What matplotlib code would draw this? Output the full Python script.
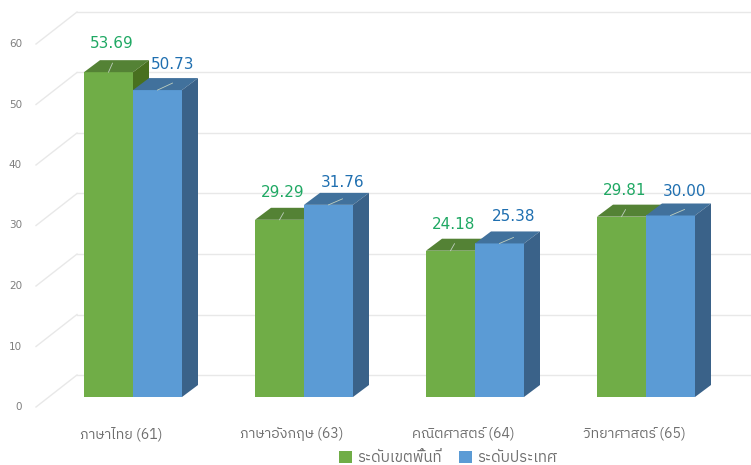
import matplotlib

matplotlib.use("Agg")
import matplotlib.pyplot as plt
from matplotlib.patches import Patch, Polygon

plt.rcParams["font.family"] = ["IBM Plex Sans Thai", "Noto Sans Thai", "DejaVu Sans"]

categories = ["ภาษาไทย (61)", "ภาษาอังกฤษ (63)", "คณิตศาสตร์ (64)", "วิทยาศาสตร์ (65)"]
region = [53.69, 29.29, 24.18, 29.81]
country = [50.73, 31.76, 25.38, 30.00]
series_names = ["ระดับเขตพื้นที่", "ระดับประเทศ"]
y_ticks = [0, 10, 20, 30, 40, 50, 60]

# pixel scale of the picture: 171 px per category, 6.05 px per score unit
PX_X = 171.0
PX_Y = 6.05
W, H = 751, 465
X0, Y0 = 133, 397    # px position of category 0 centre / value 0 on the bar front
BAR_W = 49 / PX_X
DX, DY = 16 / PX_X, 12 / PX_Y    # bar depth
WALL_DX, WALL_DY = 41 / PX_X, 32 / PX_Y    # side wall, front edge to back wall
BACK_DY = 22 / PX_Y    # back wall offset from the bar front plane
LEFT_BACK = (77 - X0) / PX_X

GREEN = ("#70AD47", "#548235", "#48701F")
BLUE = ("#5B9BD5", "#41719C", "#3A6289")
GRID = "#E8E8E8"
GREEN_TXT = "#1FA863"
BLUE_TXT = "#1F6FB0"

# label centres, relative to the bar top front centre (px)
label_off = [[(3, 29), (15, 26)], [(3, 27), (14, 22)], [(3, 26), (14, 27)], [(3, 26), (14, 24)]]
leader_off = [[(4, 9), (15, 7)], [(4, 7), (14, 6)], [(4, 7), (14, 6)], [(4, 7), (14, 6)]]


def bar3d(ax, x, w, v, colors, z):
    ax.add_patch(Polygon([(x, 0), (x + w, 0), (x + w, v), (x, v)], fc=colors[0], ec="none", zorder=z))
    ax.add_patch(Polygon([(x, v), (x + w, v), (x + w + DX, v + DY), (x + DX, v + DY)],
                         fc=colors[1], ec="none", zorder=z))
    ax.add_patch(Polygon([(x + w, 0), (x + w + DX, DY), (x + w + DX, v + DY), (x + w, v)],
                         fc=colors[2], ec="none", zorder=z))


fig = plt.figure(figsize=(W / 100, H / 100), dpi=100)
ax = fig.add_axes([0, 0, 1, 1])
ax.set_xlim(-X0 / PX_X, (W - X0) / PX_X)
ax.set_ylim(-(H - Y0) / PX_Y, Y0 / PX_Y)
ax.axis("off")

for t in y_ticks:
    yb = t + BACK_DY
    ax.plot([LEFT_BACK, ax.get_xlim()[1]], [yb, yb], color=GRID, lw=1.0, zorder=1)
    ax.plot([LEFT_BACK, LEFT_BACK - WALL_DX], [yb, yb - WALL_DY], color=GRID, lw=1.0, zorder=1)
    ax.text(LEFT_BACK - WALL_DX - 14 / PX_X, yb - WALL_DY, str(t), ha="right", va="center",
            fontsize=7.5, color="#7F7F7F", family="DejaVu Sans")

for i, name in enumerate(categories):
    bar3d(ax, i - BAR_W, BAR_W, region[i], GREEN, 2 + i * 2)
    bar3d(ax, i, BAR_W, country[i], BLUE, 3 + i * 2)
    for j, (v, xc, col) in enumerate([(region[i], i - BAR_W / 2, GREEN_TXT), (country[i], i + BAR_W / 2, BLUE_TXT)]):
        dx, dy = label_off[i][j]
        ax.text(xc + dx / PX_X, v + dy / PX_Y, f"{v:.2f}", ha="center", va="center",
                fontsize=11, color=col, family="DejaVu Sans", zorder=20)
        lx, ly = leader_off[i][j]
        ax.plot([xc, xc + lx / PX_X], [v, v + ly / PX_Y], color="#BFCFBF", lw=0.6, zorder=19)
    ax.text(i - 12 / PX_X, -6.1, name, ha="center", va="center", fontsize=10.2, color="#6E6E6E")

handles = [Patch(fc=GREEN[0], ec="none"), Patch(fc=BLUE[0], ec="none")]
ax.legend(handles, series_names, ncol=2, frameon=False, loc="center", fontsize=10.7,
          labelcolor="#6E6E6E", handlelength=0.87, handleheight=0.87, handletextpad=0.35, columnspacing=1.2,
          bbox_to_anchor=(448 / W, 1 - 458 / H), borderpad=0, borderaxespad=0)

fig.savefig("out.png", dpi=100)
